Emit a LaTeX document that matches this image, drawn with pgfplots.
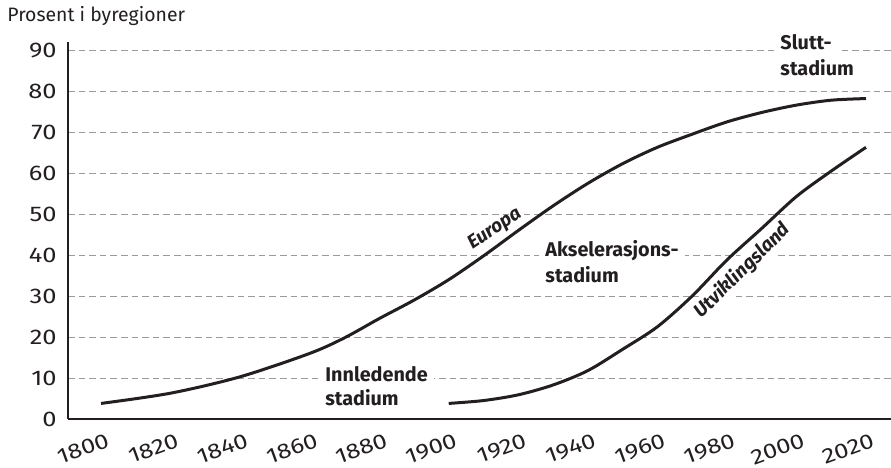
\documentclass[border=0pt]{standalone}
\usepackage{fontspec}
\setmainfont{Fira Sans}
\newfontfamily\tickfont[FakeStretch=1.2]{Fira Sans}
\usepackage{pgfplots}
\pgfplotsset{compat=1.18}
\definecolor{gridgray}{HTML}{9A9A9A}
\definecolor{ink}{HTML}{231F20}

\begin{document}
\begin{tikzpicture}
\begin{axis}[
  scale only axis, width=411.5pt, height=188.5pt,
  xmin=1790.5, xmax=2027.2, ymin=0, ymax=92,
  axis x line=bottom, axis y line=left,
  axis line style={ink, line width=0.9pt, -},
  xtick={1800,1820,...,2020}, ytick={0,10,...,90},
  major tick length=0pt,
  ymajorgrids, grid style={gridgray, line width=0.5pt, dash pattern=on 3.3pt off 2pt},
  tick label style={font=\tickfont\fontsize{10.6}{12}\selectfont, text=ink},
  xticklabel style={rotate=20, anchor=north east, inner sep=0pt, yshift=-7pt},
  yticklabel style={anchor=east, inner sep=0pt, xshift=-5.5pt},
  /pgf/number format/assume math mode=true,
  /pgf/number format/1000 sep={},
  clip=false,
]
% Europa
\addplot[ink, line width=1.5pt, smooth] coordinates {
  (1800,3.8) (1820,6.3) (1840,10.3) (1860,16) (1870,19.8) (1880,24.5)
  (1890,29) (1900,34) (1910,39.8) (1920,46) (1930,52) (1940,57.5)
  (1950,62.3) (1960,66.3) (1970,69.5) (1980,72.5) (1990,74.8)
  (2000,76.6) (2010,77.8) (2020,78.2)
};
% Utviklingsland
\addplot[ink, line width=1.5pt, smooth] coordinates {
  (1900,3.8) (1910,4.5) (1920,5.9) (1930,8.3) (1940,11.8) (1950,17)
  (1960,22.5) (1970,30) (1980,38.8) (1990,46.5) (2000,54.3)
  (2010,60.5) (2020,66.3)
};

\coordinate (bl) at (rel axis cs:0,0);
\coordinate (tr) at (rel axis cs:1,1);

\node[anchor=base west, inner sep=0pt, xshift=-30.5pt, yshift=10.5pt,
  font=\fontsize{9.7}{12}\selectfont, text=ink] at (rel axis cs:0,1) {Prosent i byregioner};

\tikzset{stage/.style={anchor=base west, fill=white, inner xsep=3pt, inner ysep=1pt,
  xshift=-3pt, text=ink, font=\bfseries\fontsize{9.9}{12}\selectfont}}
\node[stage] at (axis cs:1864.4,9.1) {Innledende};
\node[stage] at (axis cs:1864.4,3.2) {stadium};
\node[stage] at (axis cs:1927.7,39.6) {Akselerasjons-};
\node[stage] at (axis cs:1927.7,33.4) {stadium};
\node[stage] at (axis cs:1995.3,90.1) {Slutt-};
\node[stage] at (axis cs:1995.3,83.9) {stadium};

\node[rotate=34, text=ink, inner sep=1pt, font=\bfseries\itshape\fontsize{9.5}{12}\selectfont]
  at (axis cs:1913.3,46.3) {Europa};
\node[rotate=44.5, text=ink, fill=white, inner sep=1pt, font=\bfseries\itshape\fontsize{9.6}{12}\selectfont]
  at (axis cs:1984.4,36.2) {Utviklingsland};
\end{axis}
\pgfresetboundingbox
\path ([xshift=-34pt,yshift=-24.5pt]bl) rectangle ([yshift=21pt]tr);
\end{tikzpicture}
\end{document}
